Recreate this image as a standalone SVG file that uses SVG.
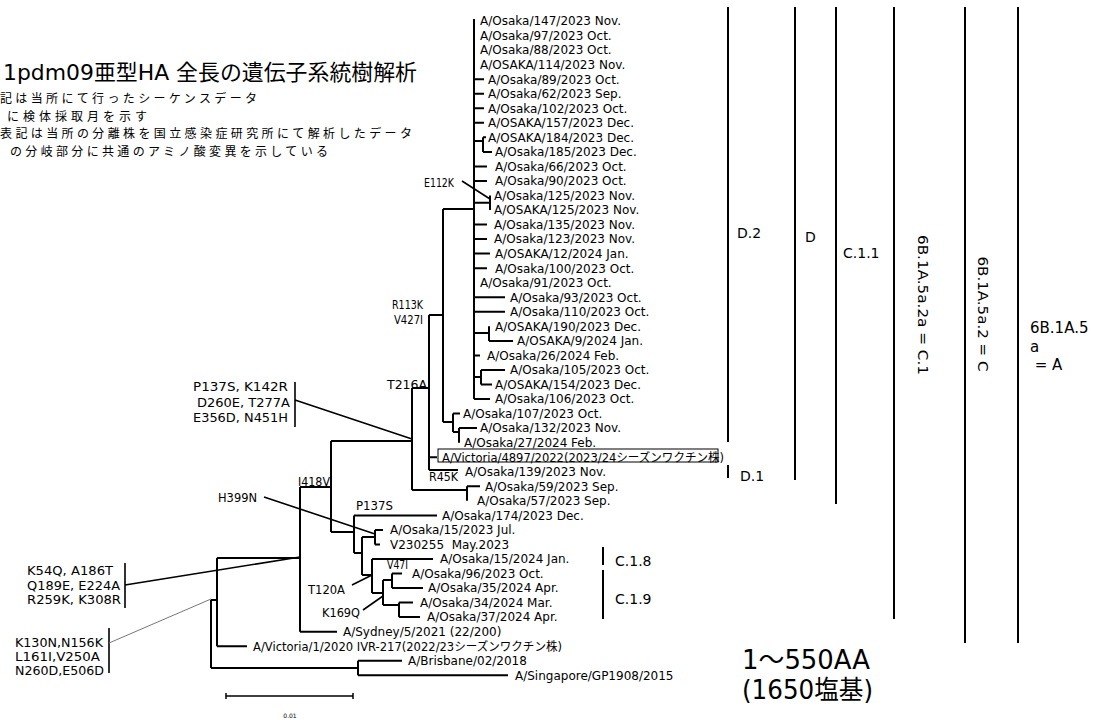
<svg xmlns="http://www.w3.org/2000/svg" width="1099" height="720" viewBox="0 0 1099 720">
<style>
text{font-family:"DejaVu Sans","Noto Sans CJK JP",sans-serif;fill:#000}
.lf{font-size:12px}
.mu{font-size:11.5px}
.an{font-size:13px}
.jp{font-family:"Noto Sans CJK JP",sans-serif;font-size:12px}
.cl{font-size:14px}
.br{stroke:#000;stroke-width:2;fill:none}
.al{stroke:#000;stroke-width:1.6;fill:none}
</style>
<rect width="1099" height="720" fill="#fff"/>
<g id="title">
<text x="3" y="80" style="font-size:21.5px" textLength="414" lengthAdjust="spacingAndGlyphs">1pdm09亜型HA 全長の遺伝子系統樹解析</text>
<text class="jp" x="0" y="103" textLength="257">記は当所にて行ったシーケンスデータ</text>
<text class="jp" x="7" y="120.5" textLength="140">に検体採取月を示す</text>
<text class="jp" x="0" y="138" textLength="412">表記は当所の分離株を国立感染症研究所にて解析したデータ</text>
<text class="jp" x="10" y="155.5" textLength="318">の分岐部分に共通のアミノ酸変異を示している</text>
</g>
<g id="connectors">
<path class="br" d="M474,19V399 M474,79.2H484 M474,93.7H484 M474,108.2H484 M474,122.8H484 M474,141H483 M483,137.3V151.9 M483,137.3H486 M483,151.9H492 M474,166.4H487 M474,180.9H487 M474,202.7H490 M490,195.5V210 M474,224.6H487 M474,239.1H487 M474,253.6H490 M474,268.2H487 M474,297.3H505 M474,311.8H505 M474,333H489 M489,326.3V340.9 M489,340.9H513 M474,355.4H480 M474,377H481 M481,370V384.5 M481,370H505 M481,384.5H492 M474,399H490"/>
<path class="br" d="M443,209V422 M443,209H474 M443,422H453 M453,413.6V432 M453,413.6H460 M453,432H459 M459,428.1V442.7 M459,428.1H477"/>
<path class="br" d="M429,315V470 M429,315H443 M429,457.2H437 M429,470H458"/>
<path class="br" d="M412,388V490 M412,388H429 M412,490H467 M467,486.3V500.8 M467,486.3H480"/>
<path class="br" d="M331,441V532 M331,441H412 M331,532H354"/>
<path class="br" d="M354,515.4V553 M354,515.4H437 M354,553H362 M362,537V575 M362,537H375 M362,575H372 M375,529.9V544.4 M375,529.9H383 M375,544.4H380"/>
<path class="br" d="M372,559V593 M372,559H433 M372,593H383 M383,580V605 M383,580H392 M383,605H399 M392,573.5V588.1 M392,573.5H402 M392,588.1H423 M399,602.6V617.1 M399,602.6H413 M399,617.1H420"/>
<path class="br" d="M300,487V631.7 M300,487H331 M300,631.7H337 M217,558V646.2 M217,558H300 M217,646.2H247 M358,660.8V675.3 M358,660.8H402 M358,675.3H508 M211,600V668 M211,600H217 M211,668H358"/>
<path class="al" d="M462,181L490,199 M295,382V427 M295,400L412,439 M264,497L375,534 M125,563V608 M125,585L300,557 M109,628V673 M352,585L372,575 M363,610L383,596"/>
<path d="M109,643L211,599" stroke="#777" stroke-width="1" fill="none"/>
<path class="br" d="M728,7V442 M728,465V478 M795,7V480 M836,7V504 M894,7V619 M965,7V643 M1018,7V643 M603,547V565 M603,570V619"/>
<path stroke="#000" stroke-width="1.5" fill="none" d="M226,696H353 M226,693V699 M353,693V699"/>
</g>
<g id="leaves">
<g id="n0"><text class="lf" x="480" y="25.3">A/Osaka/147/2023 Nov.</text></g>
<g id="n1"><text class="lf" x="480" y="39.8">A/Osaka/97/2023 Oct.</text></g>
<g id="n2"><text class="lf" x="480" y="54.4">A/Osaka/88/2023 Oct.</text></g>
<g id="n3"><text class="lf" x="480" y="68.9">A/OSAKA/114/2023 Nov.</text></g>
<g id="n4"><text class="lf" x="488" y="83.5">A/Osaka/89/2023 Oct.</text></g>
<g id="n5"><text class="lf" x="488" y="98">A/Osaka/62/2023 Sep.</text></g>
<g id="n6"><text class="lf" x="488" y="112.5">A/Osaka/102/2023 Oct.</text></g>
<g id="n7"><text class="lf" x="488" y="127.1">A/OSAKA/157/2023 Dec.</text></g>
<g id="n8"><text class="lf" x="488" y="141.6">A/OSAKA/184/2023 Dec.</text></g>
<g id="n9"><text class="lf" x="495" y="156.2">A/Osaka/185/2023 Dec.</text></g>
<g id="n10"><text class="lf" x="495" y="170.7">A/Osaka/66/2023 Oct.</text></g>
<g id="n11"><text class="lf" x="495" y="185.2">A/Osaka/90/2023 Oct.</text></g>
<g id="n12"><text class="lf" x="494" y="199.8">A/Osaka/125/2023 Nov.</text></g>
<g id="n13"><text class="lf" x="494" y="214.3">A/OSAKA/125/2023 Nov.</text></g>
<g id="n14"><text class="lf" x="494" y="228.9">A/Osaka/135/2023 Nov.</text></g>
<g id="n15"><text class="lf" x="494" y="243.4">A/Osaka/123/2023 Nov.</text></g>
<g id="n16"><text class="lf" x="495" y="257.9">A/OSAKA/12/2024 Jan.</text></g>
<g id="n17"><text class="lf" x="495" y="272.5">A/Osaka/100/2023 Oct.</text></g>
<g id="n18"><text class="lf" x="480" y="287">A/Osaka/91/2023 Oct.</text></g>
<g id="n19"><text class="lf" x="510" y="301.6">A/Osaka/93/2023 Oct.</text></g>
<g id="n20"><text class="lf" x="510" y="316.1">A/Osaka/110/2023 Oct.</text></g>
<g id="n21"><text class="lf" x="495" y="330.6">A/OSAKA/190/2023 Dec.</text></g>
<g id="n22"><text class="lf" x="517" y="345.2">A/OSAKA/9/2024 Jan.</text></g>
<g id="n23"><text class="lf" x="487" y="359.7">A/Osaka/26/2024 Feb.</text></g>
<g id="n24"><text class="lf" x="510" y="374.3">A/Osaka/105/2023 Oct.</text></g>
<g id="n25"><text class="lf" x="495" y="388.8">A/OSAKA/154/2023 Dec.</text></g>
<g id="n26"><text class="lf" x="495" y="403.3">A/Osaka/106/2023 Oct.</text></g>
<g id="n27"><text class="lf" x="463" y="417.9">A/Osaka/107/2023 Oct.</text></g>
<g id="n28"><text class="lf" x="480" y="432.4">A/Osaka/132/2023 Nov.</text></g>
<g id="n29"><text class="lf" x="464" y="447">A/Osaka/27/2024 Feb.</text></g>
<g id="n30"><rect x="438" y="449" width="280" height="13" fill="none" stroke="#000" stroke-width="1"/><text class="lf" x="442" y="461.5" textLength="282" lengthAdjust="spacingAndGlyphs">A/Victoria/4897/2022(2023/24シーズンワクチン株)</text></g>
<g id="n31"><text class="lf" x="465" y="476">A/Osaka/139/2023 Nov.</text></g>
<g id="n32"><text class="lf" x="485" y="490.6">A/Osaka/59/2023 Sep.</text></g>
<g id="n33"><text class="lf" x="477" y="505.1">A/Osaka/57/2023 Sep.</text></g>
<g id="n34"><text class="lf" x="442" y="519.7">A/Osaka/174/2023 Dec.</text></g>
<g id="n35"><text class="lf" x="390" y="534.2">A/Osaka/15/2023 Jul.</text></g>
<g id="n36"><text class="lf" x="390" y="548.7" xml:space="preserve">V230255  May.2023</text></g>
<g id="n37"><text class="lf" x="440" y="563.3">A/Osaka/15/2024 Jan.</text></g>
<g id="n38"><text class="lf" x="412" y="577.8">A/Osaka/96/2023 Oct.</text></g>
<g id="n39"><text class="lf" x="428" y="592.4">A/Osaka/35/2024 Apr.</text></g>
<g id="n40"><text class="lf" x="420" y="606.9">A/Osaka/34/2024 Mar.</text></g>
<g id="n41"><text class="lf" x="427" y="621.4">A/Osaka/37/2024 Apr.</text></g>
<g id="n42"><text class="lf" x="343" y="636">A/Sydney/5/2021 (22/200)</text></g>
<g id="n43"><text class="lf" x="253" y="650.5" textLength="309" lengthAdjust="spacingAndGlyphs">A/Victoria/1/2020 IVR-217(2022/23シーズンワクチン株)</text></g>
<g id="n44"><text class="lf" x="408" y="665.1">A/Brisbane/02/2018</text></g>
<g id="n45"><text class="lf" x="515" y="679.6">A/Singapore/GP1908/2015</text></g>
</g>
<g id="mutations">
<text class="mu" x="424" y="187.3" textLength="30" lengthAdjust="spacingAndGlyphs">E112K</text>
<text class="mu" x="392" y="309.3" textLength="31" lengthAdjust="spacingAndGlyphs">R113K</text>
<text class="mu" x="394" y="324.3" textLength="29" lengthAdjust="spacingAndGlyphs">V427I</text>
<text class="mu" x="387" y="389.3" textLength="40" lengthAdjust="spacingAndGlyphs">T216A</text>
<text class="mu" x="429" y="481.3" textLength="29" lengthAdjust="spacingAndGlyphs">R45K</text>
<text class="mu" x="298" y="486.3" textLength="32" lengthAdjust="spacingAndGlyphs">I418V</text>
<text class="mu" x="218" y="502.3" textLength="39" lengthAdjust="spacingAndGlyphs">H399N</text>
<text class="mu" x="356" y="510.3" textLength="37" lengthAdjust="spacingAndGlyphs">P137S</text>
<text class="mu" x="387" y="569.3" textLength="21" lengthAdjust="spacingAndGlyphs">V47I</text>
<text class="mu" x="308" y="594.3" textLength="37" lengthAdjust="spacingAndGlyphs">T120A</text>
<text class="mu" x="322" y="617.3" textLength="38" lengthAdjust="spacingAndGlyphs">K169Q</text>
</g>
<g id="box-p137s">
<text class="an" x="193" y="390.7" textLength="95" lengthAdjust="spacingAndGlyphs">P137S, K142R</text>
<text class="an" x="197" y="406.7" textLength="93" lengthAdjust="spacingAndGlyphs">D260E, T277A</text>
<text class="an" x="193" y="421.7" textLength="95" lengthAdjust="spacingAndGlyphs">E356D, N451H</text>
</g>
<g id="box-k54q">
<text class="an" x="27" y="574.7" textLength="86" lengthAdjust="spacingAndGlyphs">K54Q, A186T</text>
<text class="an" x="27" y="589.7" textLength="93" lengthAdjust="spacingAndGlyphs">Q189E, E224A</text>
<text class="an" x="27" y="603.7" textLength="94" lengthAdjust="spacingAndGlyphs">R259K, K308R</text>
</g>
<g id="box-k130n">
<text class="an" x="15" y="646.7" textLength="88" lengthAdjust="spacingAndGlyphs">K130N,N156K</text>
<text class="an" x="15" y="660.7" textLength="85" lengthAdjust="spacingAndGlyphs">L161I,V250A</text>
<text class="an" x="15" y="674.7" textLength="89" lengthAdjust="spacingAndGlyphs">N260D,E506D</text>
</g>
<g id="clades">
<text class="cl" x="737" y="238">D.2</text>
<text class="cl" x="740" y="481">D.1</text>
<text class="cl" x="805" y="242">D</text>
<text class="cl" x="843" y="258">C.1.1</text>
<text class="cl" x="615" y="566">C.1.8</text>
<text class="cl" x="615" y="604">C.1.9</text>
<text class="cl" transform="translate(918,305) rotate(90)" text-anchor="middle" textLength="140" lengthAdjust="spacingAndGlyphs">6B.1A.5a.2a = C.1</text>
<text class="cl" transform="translate(978,314) rotate(90)" text-anchor="middle" textLength="115" lengthAdjust="spacingAndGlyphs">6B.1A.5a.2 = C</text>
<text x="1030" y="333" style="font-size:15px">6B.1A.5</text>
<text x="1030" y="352" style="font-size:15px">a</text>
<text x="1030" y="370" style="font-size:15px" xml:space="preserve"> = A</text>
</g>
<g id="legend">
<text x="742" y="669" style="font-size:26px" textLength="128" lengthAdjust="spacingAndGlyphs">1～550AA</text>
<text x="742" y="699" style="font-size:26px" textLength="131" lengthAdjust="spacingAndGlyphs">(1650塩基)</text>
<text x="290" y="718" style="font-size:6px" text-anchor="middle">0.01</text>
</g>
</svg>
